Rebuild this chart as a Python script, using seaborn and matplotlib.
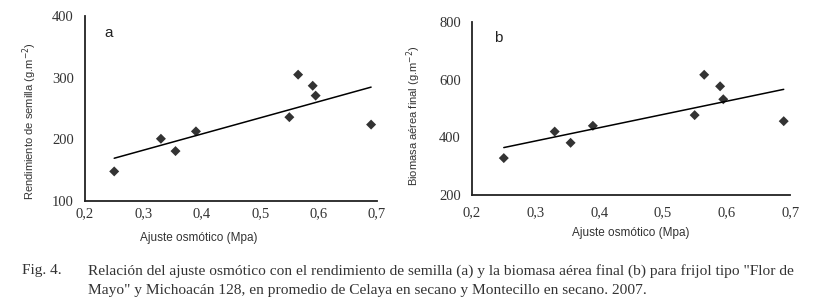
import numpy as np
import pandas as pd
import matplotlib
matplotlib.use("Agg")
import matplotlib.pyplot as plt
import seaborn as sns

# values
ajuste = [0.25, 0.33, 0.355, 0.39, 0.55, 0.565, 0.59, 0.595, 0.69]
rendimiento = [148, 201, 181, 213, 236, 305, 287, 271, 224]
biomasa = [328, 420, 381, 440, 477, 617, 577, 532, 456]

xticks = [0.2, 0.3, 0.4, 0.5, 0.6, 0.7]
xtick_labels = ["0,2", "0,3", "0,4", "0,5", "0,6", "0,7"]

df = pd.DataFrame({"ajuste": ajuste, "rend": rendimiento, "bio": biomasa})

sns.set_style("white")
plt.rcParams["font.family"] = ["Liberation Sans", "DejaVu Sans"]

fig = plt.figure(figsize=(8.23, 3.04), dpi=100)
ax_a = fig.add_axes([0.1033, 0.3388, 0.3547, 0.6082])
ax_b = fig.add_axes([0.5735, 0.3586, 0.3865, 0.569])

panels = [
    (ax_a, "rend", (100, 400), [100, 200, 300, 400], "Rendimiento de semilla (g.m$^{-2}$)", "a",
     (0.39, -0.165), (-0.158, 0.432), 1.5, 0.065),
    (ax_b, "bio", (200, 800), [200, 400, 600, 800], "Biomasa aérea final (g.m$^{-2}$)", "b",
     (0.5, -0.185), (-0.155, 0.457), 5, 0.07),
]

for ax, col, ylim, yticks, ylabel, letter, xlab_xy, ylab_xy, xpad, let_x in panels:
    sns.regplot(data=df, x="ajuste", y=col, ax=ax, ci=None, truncate=True,
                marker="D", color="black",
                scatter_kws={"s": 26, "edgecolor": "none"},
                line_kws={"lw": 1.1})
    ax.set_xlim(0.2, 0.7)
    ax.set_ylim(*ylim)
    ax.set_xticks(xticks)
    ax.set_xticklabels(xtick_labels, family="Liberation Serif", fontsize=10.5, color="#333333")
    ax.set_yticks(yticks)
    ax.set_yticklabels([str(v) for v in yticks], family="Liberation Serif", fontsize=10.5, color="#333333")
    ax.tick_params(axis="both", direction="out", length=3, width=1, color="#222222", pad=5)
    ax.tick_params(axis="x", pad=xpad)
    sns.despine(ax=ax)
    for s in ["left", "bottom"]:
        ax.spines[s].set_color("#222222")
        ax.spines[s].set_linewidth(1.3)
    ax.set_ylabel(ylabel, fontsize=8, color="#333333")
    ax.yaxis.set_label_coords(*ylab_xy)
    ax.set_xlabel("Ajuste osmótico (Mpa)", fontsize=8.5, color="#333333")
    ax.xaxis.set_label_coords(*xlab_xy)
    ax.text(let_x, 0.91, letter, transform=ax.transAxes, fontsize=11, color="#222222",
            ha="left", va="center")

cap = dict(family="Liberation Serif", fontsize=11.1, color="#333333", va="center")
fig.text(0.027, 0.1086, "Fig. 4.", **cap)
fig.text(0.107, 0.1086,
         'Relación del ajuste osmótico con el rendimiento de semilla (a) y la biomasa aérea final (b) para frijol tipo "Flor de',
         **cap)
fig.text(0.107, 0.046,
         'Mayo" y Michoacán 128, en promedio de Celaya en secano y Montecillo en secano. 2007.',
         **cap)

fig.savefig("out.png", dpi=100, facecolor="white")
